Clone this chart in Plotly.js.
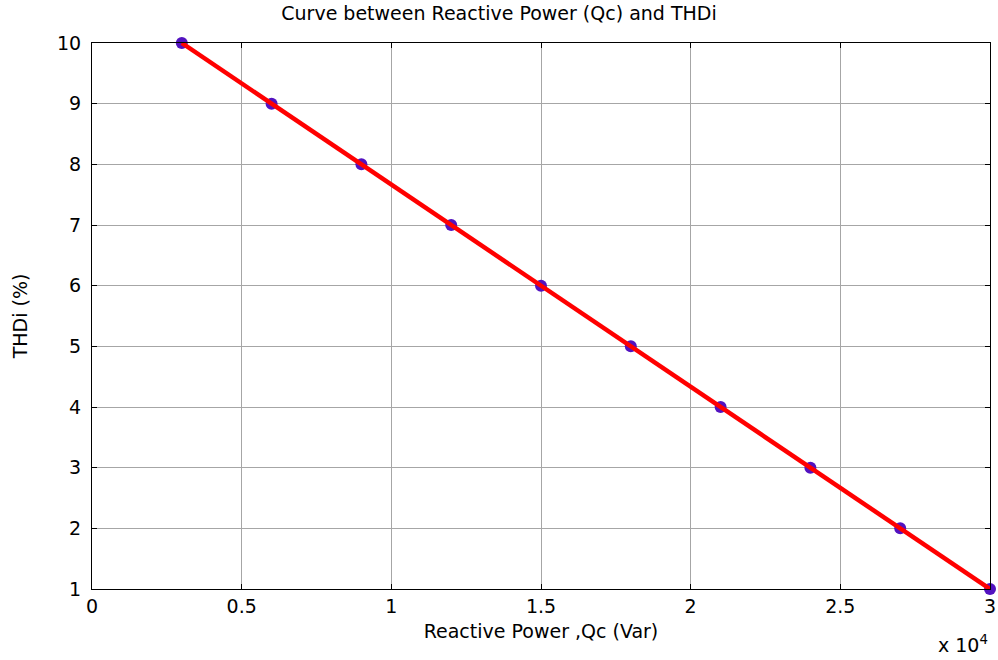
<!DOCTYPE html>
<html>
<head>
<meta charset="utf-8">
<script src="https://cdn.plot.ly/plotly-3.0.1.min.js"></script>
<style>html,body{margin:0;padding:0;background:#fff;}#chart{width:998px;height:660px;}</style>
</head>
<body>
<div id="chart"></div>
<script>
const qc = [3000, 6000, 9000, 12000, 15000, 18000, 21000, 24000, 27000, 30000];
const thdi = [10, 9, 8, 7, 6, 5, 4, 3, 2, 1];
const xTickVals = [0, 5000, 10000, 15000, 20000, 25000, 30000];
const xTickText = ['0', '0.5', '1', '1.5', '2', '2.5', '3'];
const yTickVals = [1, 2, 3, 4, 5, 6, 7, 8, 9, 10];

const font = 'DejaVu Sans, Liberation Sans, Arial, sans-serif';

const markerTrace = {x: qc, y: thdi, mode: 'markers', marker: {color: '#5212c0', size: 12, line: {width: 0}}, hoverinfo: 'none', cliponaxis: false};
const lineTrace = {x: qc, y: thdi, mode: 'lines', line: {color: '#ff0000', width: 4.5}, hoverinfo: 'none', cliponaxis: false};

const layout = {
  width: 998, height: 660,
  margin: {l: 92, r: 8, t: 43, b: 71},
  paper_bgcolor: '#ffffff', plot_bgcolor: '#ffffff',
  showlegend: false,
  font: {family: font, color: '#000', size: 18},
  title: {text: 'Curve between Reactive Power (Qc) and THDi', font: {family: font, size: 19, color: '#000'}, x: 0.5, xanchor: 'center', y: 0.99, yanchor: 'top'},
  xaxis: {
    range: [0, 30000], tickvals: xTickVals, ticktext: xTickText,
    showgrid: true, gridcolor: '#a6a6a6', gridwidth: 1,
    zeroline: false, showline: true, linecolor: '#000', linewidth: 1, mirror: 'ticks',
    ticks: 'inside', ticklen: 5, tickcolor: '#000',
    tickfont: {family: font, size: 19, color: '#000'},
    title: {text: 'Reactive Power ,Qc (Var)', font: {family: font, size: 19, color: '#000'}, standoff: 8}
  },
  yaxis: {
    range: [1, 10], tickvals: yTickVals,
    showgrid: true, gridcolor: '#a6a6a6', gridwidth: 1,
    zeroline: false, showline: true, linecolor: '#000', linewidth: 1, mirror: 'ticks',
    ticks: 'inside', ticklen: 5, tickcolor: '#000', ticklabelstandoff: 6,
    tickfont: {family: font, size: 19, color: '#000'},
    title: {text: 'THDi (%)', font: {family: font, size: 19, color: '#000'}, standoff: 24}
  },
  annotations: [
    {text: 'x 10<sup>4</sup>', xref: 'paper', yref: 'paper', x: 1.0, y: -0.126, xanchor: 'right', yanchor: 'bottom', showarrow: false, font: {family: font, size: 19, color: '#000'}}
  ]
};

Plotly.newPlot('chart', [markerTrace, lineTrace], layout, {displayModeBar: false, staticPlot: true});
</script>
</body>
</html>
